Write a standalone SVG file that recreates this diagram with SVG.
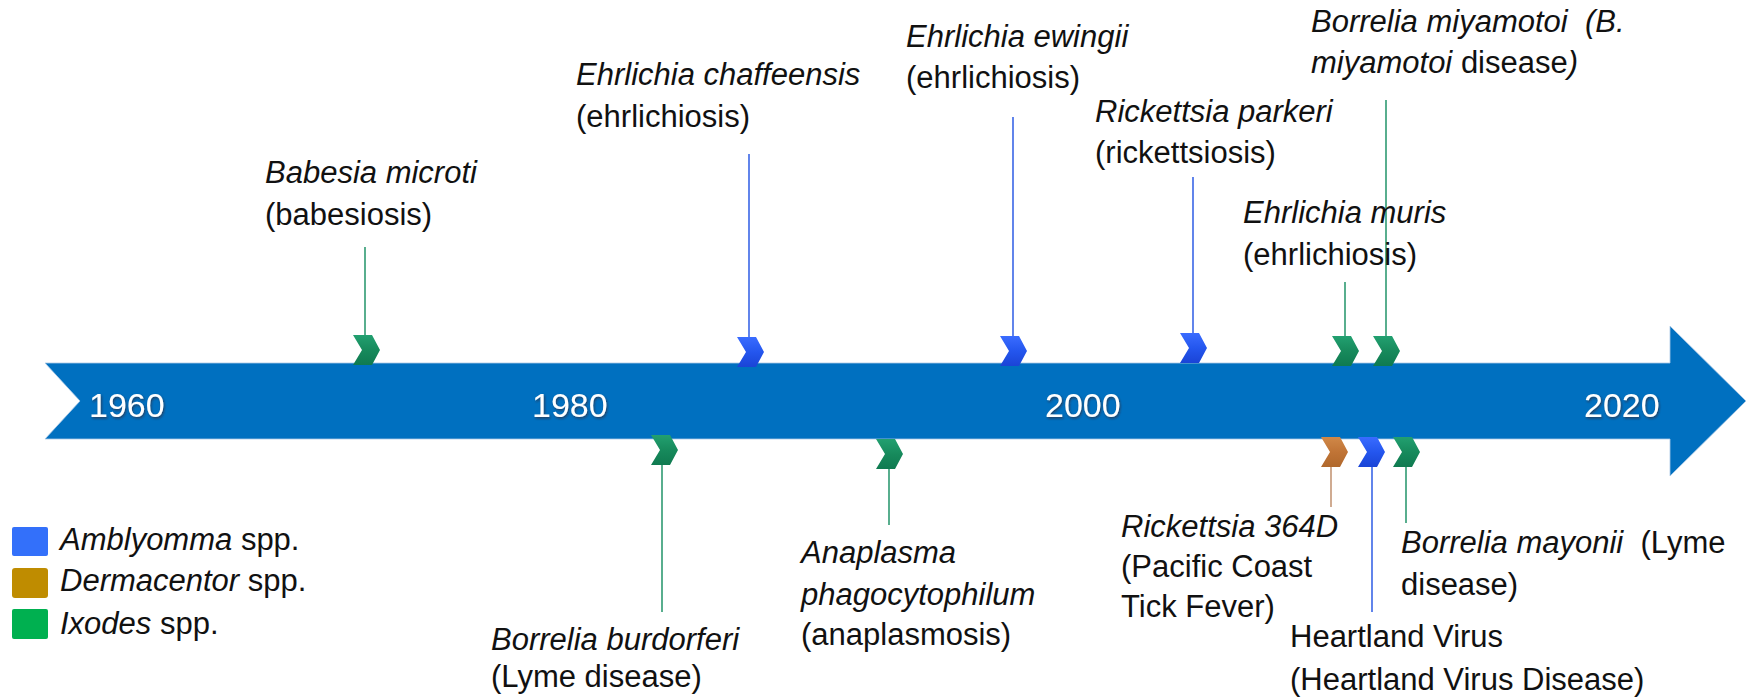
<svg xmlns="http://www.w3.org/2000/svg" width="1754" height="698" viewBox="0 0 1754 698">
<style>
.lbl{font-family:"Liberation Sans",Arial,sans-serif;font-size:31px;fill:#111}
.it{font-style:italic}
.up{font-style:normal}
.yr{font-family:"Liberation Sans",Arial,sans-serif;font-size:34px;fill:#fff;filter:url(#sh)}
.lg{stroke-width:1.6;fill:none}
.lgreen{stroke:#2f9a72}
.lblue{stroke:#3a66e6}
.lbrown{stroke:#c49676}
</style>
<defs>
<filter id="sh" x="-10%" y="-10%" width="130%" height="130%">
<feDropShadow dx="1" dy="1.5" stdDeviation="0.8" flood-color="#402020" flood-opacity="0.6"/>
</filter>
<linearGradient id="gG" x1="0" y1="0" x2="0" y2="1">
<stop offset="0" stop-color="#22a070"/><stop offset="0.5" stop-color="#178a5c"/><stop offset="1" stop-color="#0f7a50"/>
</linearGradient>
<linearGradient id="gB" x1="0" y1="0" x2="0" y2="1">
<stop offset="0" stop-color="#3a6cff"/><stop offset="0.5" stop-color="#2456ee"/><stop offset="1" stop-color="#1a44d6"/>
</linearGradient>
<linearGradient id="gO" x1="0" y1="0" x2="0" y2="1">
<stop offset="0" stop-color="#d08848"/><stop offset="0.5" stop-color="#c07436"/><stop offset="1" stop-color="#b0682c"/>
</linearGradient>
<path id="chev" d="M0,0 H19 L27,15 L19,30 H0 L9,15 Z"/>
</defs>

<g id="timeline">
<path d="M45,363 H1670 V326 L1746,401 L1670,476 V439 H45 L80,401 Z" fill="#0070c0" stroke="#a9c8e6" stroke-width="0.8"/>
<text class="yr" x="89" y="417">1960</text>
<text class="yr" x="532" y="417">1980</text>
<text class="yr" x="1045" y="417">2000</text>
<text class="yr" x="1584" y="417">2020</text>
</g>

<g id="connectors">
<line class="lg lgreen" x1="365" y1="247" x2="365" y2="336"/>
<line class="lg lblue" x1="749" y1="154" x2="749" y2="338"/>
<line class="lg lblue" x1="1013" y1="117" x2="1013" y2="337"/>
<line class="lg lblue" x1="1193" y1="177" x2="1193" y2="334"/>
<line class="lg lgreen" x1="1345" y1="282" x2="1345" y2="337"/>
<line class="lg lgreen" x1="1386" y1="100" x2="1386" y2="337"/>
<line class="lg lgreen" x1="662" y1="465" x2="662" y2="612"/>
<line class="lg lgreen" x1="889" y1="469" x2="889" y2="525"/>
<line class="lg lbrown" x1="1331" y1="466" x2="1331" y2="507"/>
<line class="lg lblue" x1="1372" y1="466" x2="1372" y2="612"/>
<line class="lg lgreen" x1="1406" y1="466" x2="1406" y2="523"/>
</g>

<g id="babesia">
<use href="#chev" x="353" y="335" fill="url(#gG)"/>
<text class="lbl" x="265" y="183"><tspan class="it">Babesia microti</tspan></text>
<text class="lbl" x="265" y="225">(babesiosis)</text>
</g>

<g id="chaffeensis">
<use href="#chev" x="737" y="337" fill="url(#gB)"/>
<text class="lbl it" x="576" y="85">Ehrlichia chaffeensis</text>
<text class="lbl" x="576" y="127">(ehrlichiosis)</text>
</g>

<g id="ewingii">
<use href="#chev" x="1000" y="336" fill="url(#gB)"/>
<text class="lbl it" x="906" y="47">Ehrlichia ewingii</text>
<text class="lbl" x="906" y="88">(ehrlichiosis)</text>
</g>

<g id="parkeri">
<use href="#chev" x="1180" y="333" fill="url(#gB)"/>
<text class="lbl it" x="1095" y="122">Rickettsia parkeri</text>
<text class="lbl" x="1095" y="163">(rickettsiosis)</text>
</g>

<g id="muris">
<use href="#chev" x="1332" y="336" fill="url(#gG)"/>
<text class="lbl it" x="1243" y="223">Ehrlichia muris</text>
<text class="lbl" x="1243" y="265">(ehrlichiosis)</text>
</g>

<g id="miyamotoi">
<use href="#chev" x="1373" y="336" fill="url(#gG)"/>
<text class="lbl it" x="1311" y="32" xml:space="preserve">Borrelia miyamotoi  (B.</text>
<text class="lbl" x="1311" y="73"><tspan class="it">miyamotoi</tspan> disease<tspan class="it">)</tspan></text>
</g>

<g id="burgdorferi">
<use href="#chev" x="651" y="435" fill="url(#gG)"/>
<text class="lbl it" x="491" y="650">Borrelia burdorferi</text>
<text class="lbl" x="491" y="687">(Lyme disease)</text>
</g>

<g id="anaplasma">
<use href="#chev" x="876" y="439" fill="url(#gG)"/>
<text class="lbl it" x="801" y="563">Anaplasma</text>
<text class="lbl it" x="801" y="605">phagocytophilum</text>
<text class="lbl" x="801" y="645">(anaplasmosis)</text>
</g>

<g id="rickettsia364d">
<use href="#chev" x="1321" y="437" fill="url(#gO)"/>
<text class="lbl it" x="1121" y="537">Rickettsia 364D</text>
<text class="lbl" x="1121" y="577">(Pacific Coast</text>
<text class="lbl" x="1121" y="617">Tick Fever)</text>
</g>

<g id="heartland">
<use href="#chev" x="1358" y="437" fill="url(#gB)"/>
<text class="lbl" x="1290" y="647">Heartland Virus</text>
<text class="lbl" x="1290" y="690">(Heartland Virus Disease)</text>
</g>

<g id="mayonii">
<use href="#chev" x="1393" y="437" fill="url(#gG)"/>
<text class="lbl" x="1401" y="553" xml:space="preserve"><tspan class="it">Borrelia mayonii</tspan>  (Lyme</text>
<text class="lbl" x="1401" y="595">disease)</text>
</g>

<g id="legend">
<rect x="12" y="527" width="36" height="29" rx="2" fill="#3370fa"/>
<rect x="12" y="568" width="36" height="30" rx="3" fill="#bf8c00"/>
<rect x="12" y="609" width="36" height="30" rx="2" fill="#00b050"/>
<text class="lbl" x="60" y="550"><tspan class="it">Amblyomma</tspan> spp.</text>
<text class="lbl" x="60" y="591"><tspan class="it">Dermacentor</tspan> spp.</text>
<text class="lbl" x="60" y="634"><tspan class="it">Ixodes</tspan> spp.</text>
</g>
</svg>
